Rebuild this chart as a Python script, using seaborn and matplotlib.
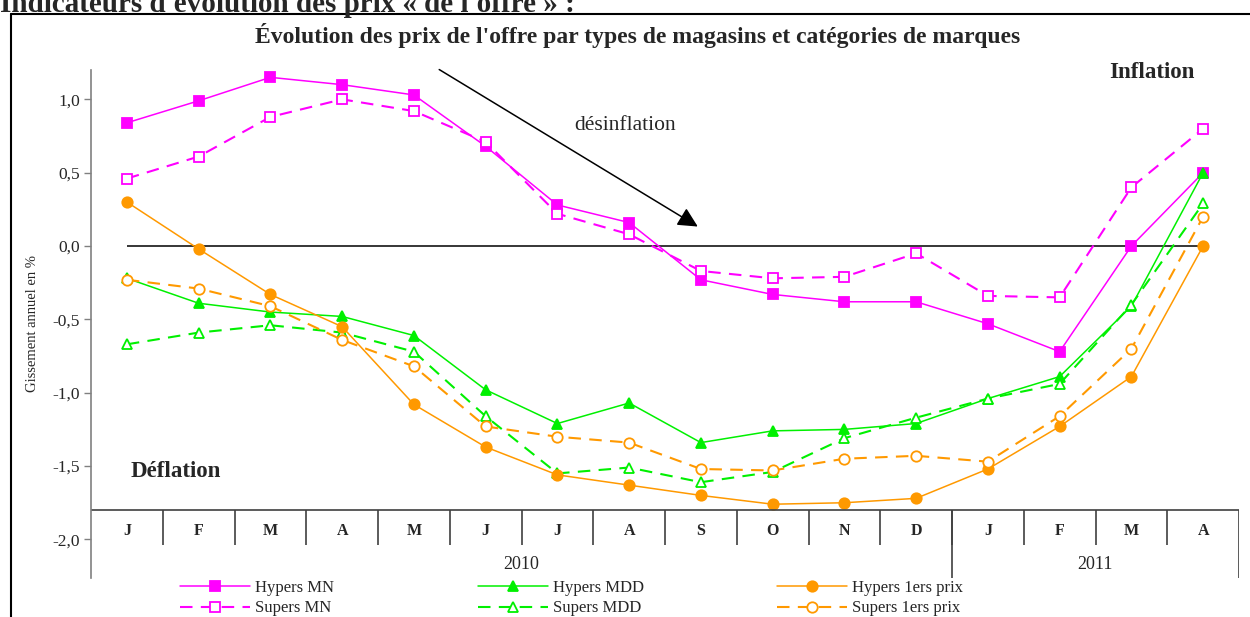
import numpy as np
import pandas as pd
import matplotlib
matplotlib.use('Agg')
import matplotlib.pyplot as plt
import seaborn as sns
from matplotlib.lines import Line2D

sns.set_style('white')
plt.rcParams['font.family'] = ['Liberation Serif', 'DejaVu Serif']

# Data (annual change, %)
months = ['J', 'F', 'M', 'A', 'M', 'J', 'J', 'A', 'S', 'O', 'N', 'D', 'J', 'F', 'M', 'A']
years = ['2010', '2011']
hypers_mn = [0.84, 0.99, 1.15, 1.10, 1.03, 0.68, 0.28, 0.16, -0.23, -0.33, -0.38, -0.38, -0.53, -0.72, 0.00, 0.50]
supers_mn = [0.46, 0.61, 0.88, 1.00, 0.92, 0.71, 0.22, 0.08, -0.17, -0.22, -0.21, -0.05, -0.34, -0.35, 0.40, 0.80]
hypers_mdd = [-0.22, -0.39, -0.45, -0.48, -0.61, -0.98, -1.21, -1.07, -1.34, -1.26, -1.25, -1.21, -1.04, -0.89, -0.41, 0.50]
supers_mdd = [-0.67, -0.59, -0.54, -0.59, -0.72, -1.16, -1.55, -1.51, -1.61, -1.54, -1.31, -1.17, -1.04, -0.94, -0.40, 0.29]
hypers_1p = [0.30, -0.02, -0.33, -0.55, -1.08, -1.37, -1.56, -1.63, -1.70, -1.76, -1.75, -1.72, -1.52, -1.23, -0.89, 0.00]
supers_1p = [-0.23, -0.29, -0.41, -0.64, -0.82, -1.23, -1.30, -1.34, -1.52, -1.53, -1.45, -1.43, -1.47, -1.16, -0.70, 0.20]

magenta = '#FF00FF'
green = '#00F000'
orange = '#FF9900'

series = [
    ('Hypers MN', hypers_mn, magenta, 's', True),
    ('Supers MN', supers_mn, magenta, 's', False),
    ('Hypers MDD', hypers_mdd, green, '^', True),
    ('Supers MDD', supers_mdd, green, '^', False),
    ('Hypers 1ers prix', hypers_1p, orange, 'o', True),
    ('Supers 1ers prix', supers_1p, orange, 'o', False),
]

W, H = 1250, 617
fig = plt.figure(figsize=(12.5, 6.17), dpi=100)
ax = fig.add_axes([91 / W, (H - 578) / H, (1239 - 91) / W, (578 - 70) / H])

x = np.arange(len(months))
handles = []
for name, vals, col, mk, filled in series:
    df = pd.DataFrame({'x': x, 'y': vals})
    kw = dict(color=col, marker=mk, markersize=7.5, markeredgecolor=col,
              markerfacecolor=col if filled else 'white', markeredgewidth=1.3)
    if filled:
        kw.update(linewidth=1.1, linestyle='-')
    else:
        kw.update(linewidth=1.5, linestyle=(0, (6, 4)))
    sns.lineplot(data=df, x='x', y='y', ax=ax, sort=False, legend=False, **kw)
    handles.append(Line2D([], [], label=name, **kw))

# zero line
ax.hlines(0, 0, 15, color='black', lw=1.1, zorder=1)

ax.set_xlim(-0.5, 15.5)
ax.set_ylim(-2.263, 1.2)
yt = np.arange(-2.0, 1.01, 0.5)
ax.set_yticks(yt)
ax.set_yticklabels([f'{v:.1f}'.replace('.', ',') for v in yt], fontsize=12.5)
ax.set_xticks([])
ax.set_xlabel('')
ax.set_ylabel('Gissement annuel en %', fontsize=10.5, labelpad=10)
ax.tick_params(axis='y', direction='out', length=5, width=1, color='#808080', left=True, pad=3)
for s in ['top', 'right', 'bottom']:
    ax.spines[s].set_visible(False)
ax.spines['left'].set_color('#808080')
ax.spines['left'].set_linewidth(1.2)

# category table below the curves
line_col = '#404040'
ax.hlines(-1.8, -0.5, 15.5, color=line_col, lw=1.2)
for k in range(1, 16):
    ax.vlines(k - 0.5, -2.04, -1.8, color=line_col, lw=1.2)
ax.vlines([11.5, 15.5], -2.263, -1.8, color=line_col, lw=1.2)
for i, m in enumerate(months):
    ax.text(i, -1.94, m, ha='center', va='center', fontsize=11.5, fontweight='bold')
ax.text(5.5, -2.17, years[0], ha='center', va='center', fontsize=13)
ax.text(13.5, -2.17, years[1], ha='center', va='center', fontsize=13)

# annotations
ax.annotate('', xy=(7.99, 0.123), xytext=(4.32, 1.213), annotation_clip=False,
            arrowprops=dict(arrowstyle='-|>', mutation_scale=30, lw=1.1, color='black'))
ax.text(6.94, 0.82, 'désinflation', ha='center', va='center', fontsize=15.5)
ax.text(14.29, 1.186, 'Inflation', ha='center', va='center', fontsize=16.5, fontweight='bold')
ax.text(0.68, -1.54, 'Déflation', ha='center', va='center', fontsize=16.5, fontweight='bold')

# outer frame and headings
fig.add_artist(Line2D([11 / W, 1.0], [(H - 14) / H, (H - 14) / H], color='black', lw=1.5))
fig.add_artist(Line2D([11 / W, 11 / W], [0, (H - 14) / H], color='black', lw=1.5))
fig.text(638 / W, (H - 35) / H, "Évolution des prix de l'offre par types de magasins et catégories de marques",
         ha='center', va='center', fontsize=17, fontweight='bold')
fig.text(0 / W, (H - 12) / H, "Indicateurs d'évolution des prix « de l'offre » :",
         ha='left', va='baseline', fontsize=21, fontweight='bold')

# legend in three columns
for j, xl in enumerate([180, 478, 777]):
    fig.legend(handles=handles[2 * j:2 * j + 2], loc='center left',
               bbox_to_anchor=(xl / W, (H - 598) / H), frameon=False, fontsize=12,
               handlelength=4.2, handletextpad=0.3, labelspacing=0.3, borderpad=0,
               borderaxespad=0, numpoints=1)

fig.savefig('out.png', dpi=100)
